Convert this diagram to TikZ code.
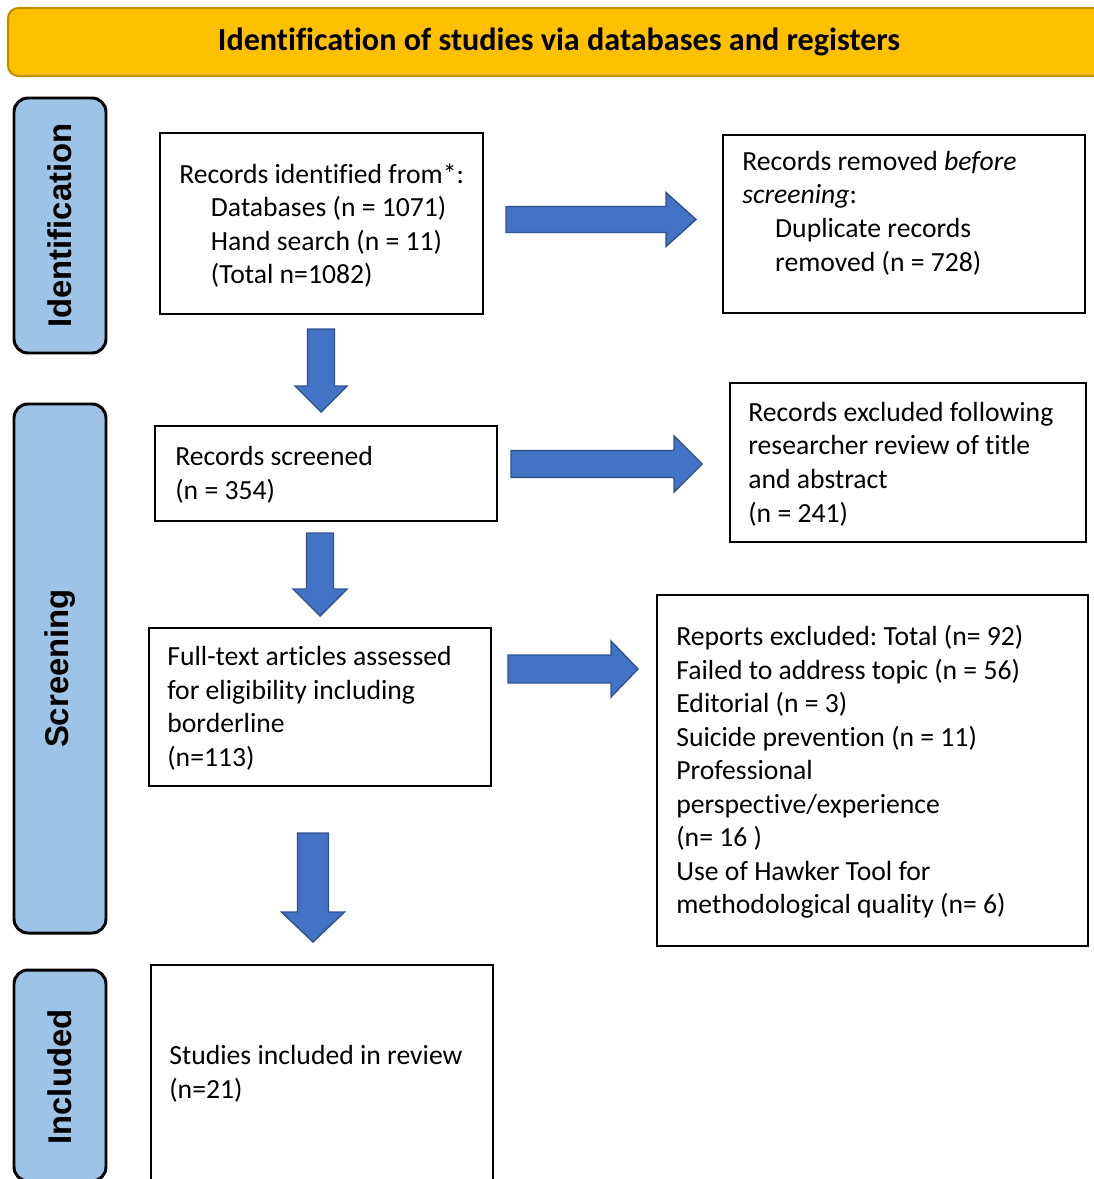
\documentclass[tikz,border=0pt]{standalone}
\usepackage{fontspec}
\setmainfont{Carlito}[Ligatures=NoCommon]
\newfontfamily\sidefont{Liberation Sans}
\usetikzlibrary{fit}
\frenchspacing
\definecolor{hdrfill}{HTML}{FFC000}
\definecolor{hdrline}{HTML}{C09000}
\definecolor{sidefill}{HTML}{9DC3E6}
\definecolor{arrfill}{HTML}{4472C4}
\definecolor{arrline}{HTML}{2F528F}
\newcommand{\fatR}[6]{% x0 x1 x2 yc shafthalf headhalf
  \draw[fatarrow] (#1,{#4-#5}) -- (#2,{#4-#5}) -- (#2,{#4-#6}) -- (#3,#4) -- (#2,{#4+#6}) -- (#2,{#4+#5}) -- (#1,{#4+#5}) -- cycle;}
\newcommand{\fatD}[6]{% y0 y1 y2 xc shafthalf headhalf
  \draw[fatarrow] ({#4-#5},#1) -- ({#4-#5},#2) -- ({#4-#6},#2) -- (#4,#3) -- ({#4+#6},#2) -- ({#4+#5},#2) -- ({#4+#5},#1) -- cycle;}
\begin{document}
\begin{tikzpicture}[x=0.02cm,y=-0.02cm,
  box/.style={draw=black,line width=1.4pt,inner sep=0pt},
  sidebar/.style={draw=black,fill=sidefill,line width=1.7pt,rounded corners=8pt,inner sep=0pt},
  sidetext/.style={font=\sidefont\bfseries\fontsize{18.7}{22}\selectfont,rotate=90,inner sep=0pt},
  txt/.style={font=\fontsize{15.75}{19.1}\selectfont,align=left,anchor=west,inner sep=0pt},
  fatarrow/.style={fill=arrfill,draw=arrline,line width=0.8pt,line join=miter}]
\useasboundingbox (0,0) rectangle (1094,1179);
\clip (0,0) rectangle (1094,1179);
\fill[white] (0,0) rectangle (1094,1179);
% header
\node[fit={(8,8)(1110,76)},inner sep=0pt,fill=hdrfill,draw=hdrline,line width=1.2pt,rounded corners=6pt] (hdr) {};
\node[font=\bfseries\fontsize{18.3}{22}\selectfont,inner sep=0pt] (hdrtxt) at (559,42) {Identification of studies via databases and registers};
% side bars
\node[sidebar,fit={(14,98)(106,353)}] (sid) {};
\node[sidebar,fit={(14,404)(106,933)}] (sscr) {};
\node[sidebar,fit={(14,970)(106,1181)}] (sinc) {};
\node[sidetext] (lid) at (60,225.5) {Identification};
\node[sidetext] (lscr) at (60,668.5) {Screening};
\node[sidetext] (linc) at (60,1077) {Included};
% boxes
\node[box,fit={(160,133)(483,314)}] (b1) {};
\node[box,fit={(723,135)(1085,313)}] (b2) {};
\node[box,fit={(155,426)(497,521)}] (b3) {};
\node[box,fit={(730,383)(1086,542)}] (b4) {};
\node[box,fit={(149,628)(491,786)}] (b5) {};
\node[box,fit={(657,595)(1088,946)}] (b6) {};
\node[box,fit={(151,965)(493,1190)}] (b7) {};
% texts
\node[txt] (t1) at (179,225.5) {Records identified from*:\\\hspace*{18pt}Databases (n = 1071)\\\hspace*{18pt}Hand search (n = 11)\\\hspace*{18pt}(Total n=1082)};
\node[txt] (t2) at (742,213) {Records removed \textit{before}\\\textit{screening}:\\\hspace*{18.7pt}Duplicate records\\\hspace*{18.7pt}removed (n = 728)};
\node[txt] (t3) at (175,475) {Records screened\\(n = 354)};
\node[txt] (t4) at (748,464) {Records excluded following\\researcher review of title\\and abstract\\(n = 241)};
\node[txt] (t5) at (167,708.5) {Full-text articles assessed\\for eligibility including\\borderline\\(n=113)};
\node[txt] (t6) at (676,772) {Reports excluded: Total (n= 92)\\Failed to address topic (n = 56)\\Editorial (n = 3)\\Suicide prevention (n = 11)\\Professional\\perspective/experience\\(n= 16 )\\Use of Hawker Tool for\\methodological quality (n= 6)};
\node[txt] (t7) at (169,1074) {Studies included in review\\(n=21)};
% arrows
\fatR{506}{666}{696}{219.5}{13}{27}
\fatR{511}{674}{702}{464}{13.5}{28}
\fatR{508}{611}{638}{669}{14}{28}
\fatD{329}{386}{412}{321}{13.5}{26}
\fatD{533}{589}{616}{320}{13.5}{27}
\fatD{833}{912}{942}{313}{15.5}{31.5}
\end{tikzpicture}
\end{document}
